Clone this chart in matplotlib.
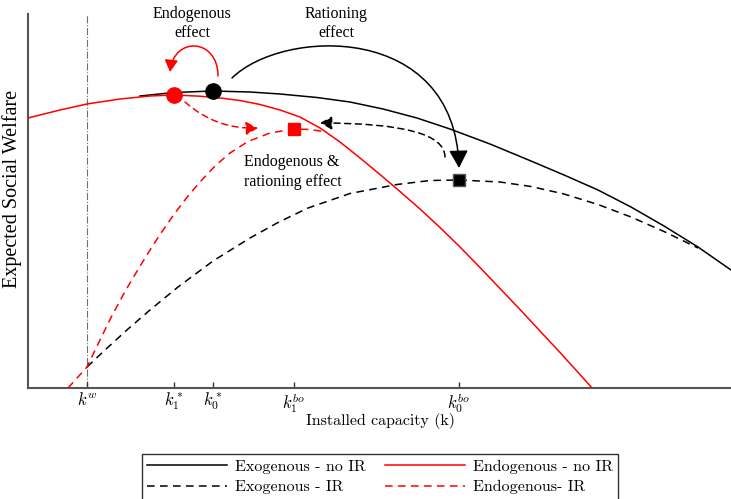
import matplotlib
matplotlib.use("Agg")
import matplotlib.pyplot as plt
from matplotlib.patches import FancyArrowPatch
from matplotlib.path import Path
from matplotlib.lines import Line2D

plt.rcParams['mathtext.fontset'] = 'cm'

# ---------------- data (capacity k, expected social welfare) ----------------
exo_noir_k = [112, 146, 185, 222, 252, 289, 322, 355, 389, 422, 462, 503, 536, 570, 603, 636, 670, 703]
exo_noir_w = [292, 295.5, 297, 296, 294, 290.5, 286, 279, 270, 259, 244, 227, 213, 198, 181, 162, 141, 118]

exo_ir_k = [59, 77, 100, 122, 150, 185, 222, 250, 280, 322, 369, 402, 431, 472, 503, 536, 570, 603, 636, 670]
exo_ir_w = [21, 38, 59, 78, 101, 127, 150, 165.5, 180, 194.5, 203.5, 207.5, 208, 206, 201.5, 194, 183.5, 171, 156.5, 140]

endo_noir_k = [0, 32, 59, 92, 122, 146, 172, 192, 212, 232, 252, 272, 292, 312, 332, 352, 372, 392,
               412, 432, 452, 472, 492, 512, 532, 552, 564]
endo_noir_w = [270, 278, 284, 289, 292, 293, 291.8, 290, 287.5, 283.5, 278, 271, 260, 246, 230, 213.5,
               196.5, 179, 160.5, 141, 120.5, 99.5, 78.5, 57, 35.5, 13.5, 0]

endo_ir_k = [40, 50, 59, 71, 83, 97, 110, 122, 133, 147, 160, 172, 187, 202, 220, 242, 266, 282, 299]
endo_ir_w = [0, 11, 21, 46, 70.5, 96.5, 118.5, 138, 155, 175, 192, 206, 222, 235, 246.5, 255, 259, 258.5, 256]

# key capacities and optimum welfare values
k_w = 59
k1_star, w1_star = 146, 293
k0_star, w0_star = 185, 297
k1_bo, w1_bo = 266, 259
k0_bo, w0_bo = 431, 208

tick_pos = [k_w, k1_star, k0_star, k1_bo, k0_bo]
tick_labels = [r'$k^w$', r'$k_1^*$', r'$k_0^*$', r'$k_1^{bo}$', r'$k_0^{bo}$']

legend_labels = ['Exogenous - no IR', 'Exogenous - IR', 'Endogenous - no IR', 'Endogenous- IR']

# ---------------- figure ----------------
W, H = 731, 499
fig = plt.figure(figsize=(W / 100, H / 100), dpi=100)
ax = fig.add_axes([28 / W, 111 / H, 703 / W, 374 / H])
ax.set_xlim(0, 703)
ax.set_ylim(0, 374)

dash = (0, (5, 3.5))
lw = 1.1
ax.axvline(k_w, color='#707070', lw=0.8, ls='-.', zorder=1)
ax.plot(exo_noir_k, exo_noir_w, color='black', lw=lw, zorder=2)
ax.plot(exo_ir_k, exo_ir_w, color='black', lw=lw, ls=dash, zorder=2)
ax.plot(endo_noir_k, endo_noir_w, color='red', lw=lw, zorder=3)
ax.plot(endo_ir_k, endo_ir_w, color='red', lw=lw, ls=dash, zorder=3)

# optimum markers
ax.plot([k1_star], [w1_star], 'o', color='red', ms=11, zorder=5, clip_on=False)
ax.plot([k0_star], [w0_star], 'o', color='black', ms=11, zorder=5, clip_on=False)
ax.plot([k1_bo], [w1_bo], 's', color='red', ms=9, zorder=5)
ax.plot([k0_bo], [w0_bo], 's', color='black', mec='#555555', ms=9, zorder=5)

# spines / ticks
for s in ['top', 'right']:
    ax.spines[s].set_visible(False)
for s in ['left', 'bottom']:
    ax.spines[s].set_color('#555555')
    ax.spines[s].set_linewidth(1.5)
ax.set_yticks([])
ax.set_xticks(tick_pos)
ax.set_xticklabels(tick_labels, fontsize=12)
ax.tick_params(axis='x', direction='in', length=4.5, width=1, color='#333333', pad=2)

ax.set_xlabel('Installed capacity (k)', fontfamily='cmr10', fontsize=11.5)
ax.xaxis.set_label_coords(352 / 703, -25 / 374)
ax.set_ylabel('Expected Social Welfare', fontfamily='Liberation Serif', fontsize=14.5)
ax.yaxis.set_label_coords(-6 / 703, 0.533)

serif = 'Liberation Serif'
ax.text(164, 364.5, 'Endogenous\neffect', ha='center', va='center', fontsize=11.5,
        fontfamily=serif, linespacing=1.25, clip_on=False)
ax.text(308, 364.5, 'Rationing\neffect', ha='center', va='center', fontsize=11.5,
        fontfamily=serif, linespacing=1.25, clip_on=False)
ax.text(216, 216, 'Endogenous &\nrationing effect', ha='left', va='center', fontsize=11.5,
        fontfamily=serif, linespacing=1.25)

# arrows
def arrow(color, p0=None, p1=None, conn='arc3', path=None, ls='-', hl=0.72, hw=0.4):
    if path is not None:
        a = FancyArrowPatch(path=path, arrowstyle=f'-|>,head_length={hl},head_width={hw}',
                            mutation_scale=10, color=color, lw=lw, linestyle=ls,
                            zorder=6, clip_on=False)
    else:
        a = FancyArrowPatch(p0, p1, connectionstyle=conn,
                            arrowstyle=f'-|>,head_length={hl},head_width={hw}',
                            mutation_scale=10, color=color, lw=lw, linestyle=ls,
                            shrinkA=0, shrinkB=0, zorder=6, clip_on=False)
    ax.add_patch(a)

C4 = [Path.MOVETO, Path.CURVE4, Path.CURVE4, Path.CURVE4]
# endogenous effect loop (red)
arrow('red', path=Path([(190, 312), (190, 350), (146, 352), (142, 316)], C4))
# endogenous & rationing (red dashed)
arrow('red', (157, 286), (230, 260), 'arc3,rad=0.2', ls=(0, (4, 3)))
# rationing effect (black)
arrow('black', path=Path([(204, 310), (255, 360), (427, 366), (431, 220)], C4), hl=1.08, hw=0.58)
# back arrow (black dashed)
arrow('black', (417, 231), (292, 265), 'angle3,angleA=90,angleB=0', ls=(0, (4, 3)))

# legend
handles = [Line2D([], [], color='black', lw=lw),
           Line2D([], [], color='black', lw=lw, ls=dash),
           Line2D([], [], color='red', lw=lw),
           Line2D([], [], color='red', lw=lw, ls=dash)]
leg = fig.legend(handles, legend_labels, ncol=2, loc='upper center',
                 bbox_to_anchor=(380 / W, 1 - 446 / H), frameon=True, fancybox=False,
                 edgecolor='#333333', framealpha=1, handlelength=5.0, handletextpad=0.5,
                 columnspacing=1.2, labelspacing=0.4, borderpad=0.35,
                 prop={'family': 'cmr10', 'size': 11.5})
leg.get_frame().set_linewidth(1.0)

fig.savefig('out.png', dpi=100)
